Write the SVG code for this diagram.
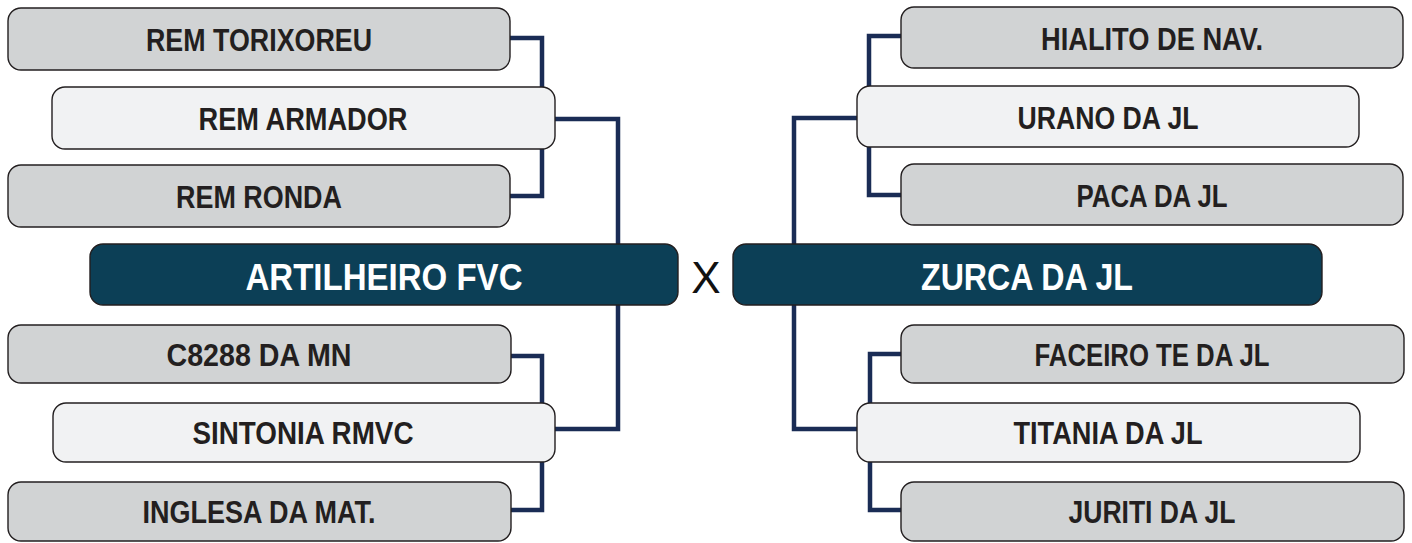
<svg xmlns="http://www.w3.org/2000/svg" width="1412" height="543" viewBox="0 0 1412 543">
<style>
.gray{fill:#d1d3d4;stroke:#231f20;stroke-width:1.4}
.light{fill:#f1f2f3;stroke:#231f20;stroke-width:1.4}
.dark{fill:#0c3f56;stroke:#231f20;stroke-width:1.4}
.t{font-family:"Liberation Sans Narrow","Liberation Sans",Arial,sans-serif;font-stretch:condensed;font-weight:bold;font-size:32px;fill:#231f20;text-anchor:middle}
.tw{font-family:"Liberation Sans Narrow","Liberation Sans",Arial,sans-serif;font-stretch:condensed;font-weight:bold;font-size:36px;fill:#ffffff;text-anchor:middle}
.x{font-family:"Liberation Sans Narrow","Liberation Sans",Arial,sans-serif;font-stretch:condensed;font-size:44px;fill:#111111;text-anchor:middle}
.c{fill:none;stroke:#1a2c55;stroke-width:4.5;stroke-linejoin:miter}
</style>
<rect width="1412" height="543" fill="#ffffff"/>
<g id="connectors">
<path class="c" d="M510 38 H542 V196 H510"/>
<path class="c" d="M555 119 H618 V429 H555"/>
<path class="c" d="M511 356 H542 V510 H511"/>
<path class="c" d="M901 36 H869 V195 H901"/>
<path class="c" d="M857 118 H794 V429 H857"/>
<path class="c" d="M901 354 H870 V510 H901"/>
</g>
<g id="n-torixoreu"><rect class="gray" x="8" y="8" width="502" height="62" rx="13"/><text class="t" x="259" y="51" textLength="226" lengthAdjust="spacingAndGlyphs">REM TORIXOREU</text></g>
<g id="n-armador"><rect class="light" x="52" y="87" width="503" height="62" rx="13"/><text class="t" x="303" y="130" textLength="209" lengthAdjust="spacingAndGlyphs">REM ARMADOR</text></g>
<g id="n-ronda"><rect class="gray" x="8" y="165" width="502" height="62" rx="13"/><text class="t" x="259" y="208" textLength="166" lengthAdjust="spacingAndGlyphs">REM RONDA</text></g>
<g id="n-artilheiro"><rect class="dark" x="90" y="244" width="588" height="61" rx="13"/><text class="tw" x="384" y="290" textLength="277" lengthAdjust="spacingAndGlyphs">ARTILHEIRO FVC</text></g>
<g id="n-c8288"><rect class="gray" x="8" y="325" width="503" height="58" rx="13"/><text class="t" x="259" y="366" textLength="185" lengthAdjust="spacingAndGlyphs">C8288 DA MN</text></g>
<g id="n-sintonia"><rect class="light" x="53" y="403" width="502" height="59" rx="13"/><text class="t" x="303" y="444" textLength="221" lengthAdjust="spacingAndGlyphs">SINTONIA RMVC</text></g>
<g id="n-inglesa"><rect class="gray" x="8" y="482" width="503" height="59" rx="13"/><text class="t" x="259" y="523" textLength="233" lengthAdjust="spacingAndGlyphs">INGLESA DA MAT.</text></g>
<g id="vs"><text class="x" x="706" y="293">X</text></g>
<g id="n-hialito"><rect class="gray" x="901" y="7" width="502" height="61" rx="13"/><text class="t" x="1152" y="50" textLength="222" lengthAdjust="spacingAndGlyphs">HIALITO DE NAV.</text></g>
<g id="n-urano"><rect class="light" x="857" y="86" width="502" height="61" rx="13"/><text class="t" x="1108" y="129" textLength="181" lengthAdjust="spacingAndGlyphs">URANO DA JL</text></g>
<g id="n-paca"><rect class="gray" x="901" y="164" width="502" height="61" rx="13"/><text class="t" x="1152" y="207" textLength="151" lengthAdjust="spacingAndGlyphs">PACA DA JL</text></g>
<g id="n-zurca"><rect class="dark" x="733" y="244" width="589" height="61" rx="13"/><text class="tw" x="1027" y="290" textLength="212" lengthAdjust="spacingAndGlyphs">ZURCA DA JL</text></g>
<g id="n-faceiro"><rect class="gray" x="901" y="325" width="503" height="58" rx="13"/><text class="t" x="1152" y="366" textLength="235" lengthAdjust="spacingAndGlyphs">FACEIRO TE DA JL</text></g>
<g id="n-titania"><rect class="light" x="857" y="403" width="503" height="59" rx="13"/><text class="t" x="1108" y="444" textLength="189" lengthAdjust="spacingAndGlyphs">TITANIA DA JL</text></g>
<g id="n-juriti"><rect class="gray" x="901" y="482" width="503" height="59" rx="13"/><text class="t" x="1152" y="523" textLength="167" lengthAdjust="spacingAndGlyphs">JURITI DA JL</text></g>
</svg>
